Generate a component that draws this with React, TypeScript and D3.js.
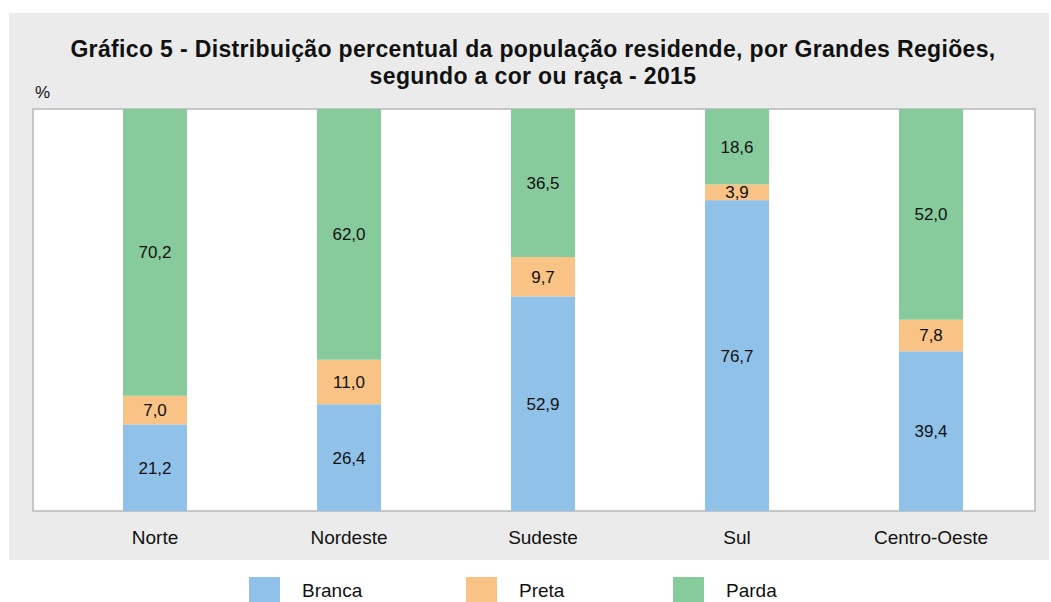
import React from "react";
import * as d3 from "d3";

const titleLines = [
  "Gráfico 5 - Distribuição percentual da população residende, por Grandes Regiões,",
  "segundo a cor ou raça - 2015",
];
const regions = ["Norte", "Nordeste", "Sudeste", "Sul", "Centro-Oeste"];
const seriesNames = ["Branca", "Preta", "Parda"];
const branca = [21.2, 26.4, 52.9, 76.7, 39.4];
const preta = [7.0, 11.0, 9.7, 3.9, 7.8];
const parda = [70.2, 62.0, 36.5, 18.6, 52.0];
const colors = ["#8fc1e9", "#f8c384", "#87cb9c"];

const W = 1051;
const H = 602;
const FONT = "'Liberation Sans', Arial, sans-serif";

export default function App() {
  const rows = regions.map((r, i) => ({
    region: r,
    Branca: branca[i],
    Preta: preta[i],
    Parda: parda[i],
  }));
  const stack = d3
    .stack<any>()
    .keys(seriesNames)
    .offset(d3.stackOffsetExpand);
  const layers = stack(rows);

  const plot = { x0: 33, x1: 1035, y0: 109, y1: 511 };
  const x = d3
    .scaleBand<string>()
    .domain(regions)
    .range([58, 1028])
    .paddingInner(0.67)
    .paddingOuter(0.335);
  const y = d3.scaleLinear().domain([0, 1]).range([plot.y1, plot.y0]);
  const fmt = (v: number) => v.toFixed(1).replace(".", ",");

  const legendX = [249, 466, 673];

  return (
    <svg
      width={W}
      height={H}
      style={{ position: "absolute", left: 0, top: 0, background: "#fff" }}
      fontFamily={FONT}
    >
      <rect x={9} y={13} width={1040} height={547} fill="#ebebeb" />
      {titleLines.map((t, i) => (
        <text
          key={i}
          x={533}
          y={57 + i * 27}
          textAnchor="middle"
          fontWeight="bold"
          fontSize={23}
          letterSpacing={0.35}
          fill="#111"
        >
          {t}
        </text>
      ))}
      <text x={35} y={98} fontSize={17} fill="#111">
        %
      </text>
      <rect
        x={plot.x0}
        y={plot.y0}
        width={plot.x1 - plot.x0}
        height={plot.y1 - plot.y0}
        fill="#fff"
        stroke="#b8b8bc"
        strokeWidth={1.5}
      />
      {layers.map((layer, li) => (
        <g key={layer.key}>
          {layer.map((d, i) => (
            <rect
              key={i}
              x={x(regions[i])}
              y={y(d[1])}
              width={x.bandwidth()}
              height={y(d[0]) - y(d[1])}
              fill={colors[li]}
            />
          ))}
        </g>
      ))}
      {layers.map((layer, li) => (
        <g key={"l" + layer.key}>
          {layer.map((d, i) => (
            <text
              key={i}
              x={(x(regions[i]) as number) + x.bandwidth() / 2}
              y={(y(d[0]) + y(d[1])) / 2}
              dy="0.35em"
              textAnchor="middle"
              fontSize={17}
              fill="#111"
            >
              {fmt((rows[i] as any)[layer.key])}
            </text>
          ))}
        </g>
      ))}
      {regions.map((r) => (
        <text
          key={r}
          x={(x(r) as number) + x.bandwidth() / 2}
          y={544}
          textAnchor="middle"
          fontSize={19}
          fill="#111"
        >
          {r}
        </text>
      ))}
      {seriesNames.map((s, i) => (
        <g key={s}>
          <rect x={legendX[i]} y={577} width={31} height={26} fill={colors[i]} />
          <text x={legendX[i] + 53} y={597} fontSize={19} fill="#111">
            {s}
          </text>
        </g>
      ))}
    </svg>
  );
}
